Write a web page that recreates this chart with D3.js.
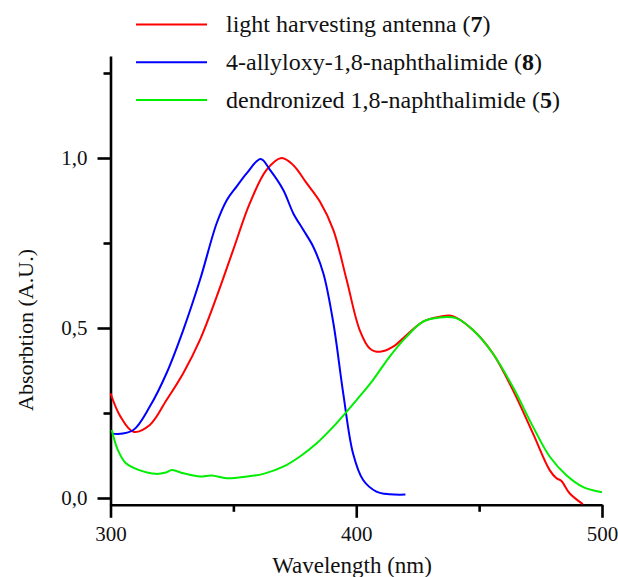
<!DOCTYPE html>
<html>
<head>
<meta charset="utf-8">
<script src="https://cdn.jsdelivr.net/npm/d3@7/dist/d3.min.js"></script>
<style>
  html, body { margin: 0; padding: 0; background: #fff; }
  svg text { font-family: "Liberation Serif", "Times New Roman", serif; fill: #111; }
</style>
</head>
<body>
<div id="chart"></div>
<script>
// wavelength (nm) / absorbance pairs
var antennaWl  = [300, 304, 309.3, 316, 322.8, 329.6, 336.4, 343.2, 349.9, 356.7, 363.5, 369.6, 374.4, 379.8, 385.2, 390.7, 396.1, 401.4, 405.5, 409.6, 415, 420.4, 427.2, 434, 439.3, 447.5, 455.6, 463.7, 471.9, 478.7, 481.5, 483.5, 486.8, 492.2];
var antennaAbs = [0.308, 0.24, 0.195, 0.215, 0.288, 0.367, 0.465, 0.592, 0.729, 0.867, 0.965, 1.0, 0.979, 0.926, 0.872, 0.788, 0.641, 0.494, 0.44, 0.43, 0.445, 0.479, 0.519, 0.533, 0.535, 0.494, 0.425, 0.318, 0.19, 0.082, 0.058, 0.05, 0.014, -0.018];

var naphWl  = [300.5, 303, 309.3, 316, 322.8, 329.6, 336.4, 343.2, 347.3, 351.3, 355.4, 361.1, 364.9, 370.3, 374.4, 378.5, 382.5, 386.6, 390.7, 394.7, 398.7, 402.8, 408.2, 413.6, 420];
var naphAbs = [0.19, 0.188, 0.2, 0.269, 0.367, 0.494, 0.641, 0.808, 0.876, 0.916, 0.955, 0.997, 0.965, 0.906, 0.837, 0.788, 0.739, 0.661, 0.514, 0.308, 0.131, 0.053, 0.019, 0.011, 0.01];

var dendWl  = [300.5, 303, 306.3, 311.7, 318.5, 322.5, 325, 329.6, 336.4, 341.1, 347.3, 355.4, 362.2, 370.3, 377.1, 383.9, 390.7, 396.1, 400.1, 406.8, 413.6, 420.4, 427.2, 434, 440.6, 447.5, 455.6, 463.7, 471.9, 478.7, 485.4, 492.2, 500];
var dendAbs = [0.2, 0.141, 0.102, 0.082, 0.071, 0.075, 0.082, 0.073, 0.063, 0.066, 0.058, 0.063, 0.071, 0.092, 0.122, 0.161, 0.21, 0.254, 0.288, 0.347, 0.416, 0.474, 0.519, 0.531, 0.529, 0.494, 0.425, 0.327, 0.21, 0.122, 0.068, 0.033, 0.017];

var seriesNames  = ["light harvesting antenna", "4-allyloxy-1,8-naphthalimide", "dendronized 1,8-naphthalimide"];
var seriesLabels = ["7", "8", "5"];

var xMajorTicks = [300, 400, 500];
var xMinorTicks = [350, 450];
var yMajorTicks = [0, 0.5, 1.0];
var yMinorTicks = [0.25, 0.75, 1.25];

var w = 618, h = 577;
var colors = ["#ff0000", "#0000ff", "#00ee00"];

var svg = d3.select("#chart").append("svg")
  .attr("width", w)
  .attr("height", h);

var x = d3.scaleLinear().domain([300, 500]).range([110.5, 602]);
var y = d3.scaleLinear().domain([-0.02, 1.3]).range([504.8, 56]);

var fmt = function(d) { return d3.format(".1f")(d).replace(".", ","); };

// axes
var xAxisY = y(-0.02);

svg.append("g")
  .attr("transform", "translate(0," + xAxisY + ")")
  .call(d3.axisBottom(x).tickValues(xMinorTicks).tickSize(7).tickFormat(""))
  .call(function(g) { g.select(".domain").remove(); });

var gx = svg.append("g")
  .attr("transform", "translate(0," + xAxisY + ")")
  .call(d3.axisBottom(x).tickValues(xMajorTicks).tickSize(13).tickSizeOuter(0).tickPadding(8).tickFormat(d3.format("d")));

svg.append("g")
  .attr("transform", "translate(" + x(300) + ",0)")
  .call(d3.axisLeft(y).tickValues(yMinorTicks).tickSize(7).tickFormat(""))
  .call(function(g) { g.select(".domain").remove(); });

var gy = svg.append("g")
  .attr("transform", "translate(" + x(300) + ",0)")
  .call(d3.axisLeft(y).tickValues(yMajorTicks).tickSize(13).tickSizeOuter(0).tickPadding(10).tickFormat(fmt));

svg.selectAll(".domain, .tick line")
  .attr("stroke", "#000")
  .attr("stroke-width", 2.6);

svg.selectAll(".tick text")
  .attr("font-size", 21)
  .attr("fill", "#111");

svg.append("text")
  .attr("x", 352)
  .attr("y", 573)
  .attr("text-anchor", "middle")
  .attr("font-size", 23)
  .text("Wavelength (nm)");

svg.append("text")
  .attr("transform", "translate(33,330) rotate(-90)")
  .attr("text-anchor", "middle")
  .attr("font-size", 22)
  .text("Absorbtion (A.U.)");

// curves
var line = d3.line()
  .x(function(d) { return x(d[0]); })
  .y(function(d) { return y(d[1]); })
  .curve(d3.curveCatmullRom.alpha(0.5));

var series = [
  d3.zip(antennaWl, antennaAbs),
  d3.zip(naphWl, naphAbs),
  d3.zip(dendWl, dendAbs)
];

svg.selectAll(".curve")
  .data(series)
  .enter()
  .append("path")
  .attr("class", "curve")
  .attr("d", line)
  .attr("fill", "none")
  .attr("stroke", function(d, i) { return colors[i]; })
  .attr("stroke-width", 2);

// legend
var legend = svg.selectAll(".legend")
  .data(seriesNames)
  .enter()
  .append("g")
  .attr("class", "legend")
  .attr("transform", function(d, i) { return "translate(0," + (24.5 + i * 37.8) + ")"; });

legend.append("line")
  .attr("x1", 136).attr("x2", 207)
  .attr("stroke", function(d, i) { return colors[i]; })
  .attr("stroke-width", 2);

var lt = legend.append("text")
  .attr("x", 226)
  .attr("dy", "0.33em")
  .attr("font-size", 24);
lt.append("tspan").text(function(d) { return d + " ("; });
lt.append("tspan").attr("font-weight", "bold").text(function(d, i) { return seriesLabels[i]; });
lt.append("tspan").text(")");
</script>
</body>
</html>
